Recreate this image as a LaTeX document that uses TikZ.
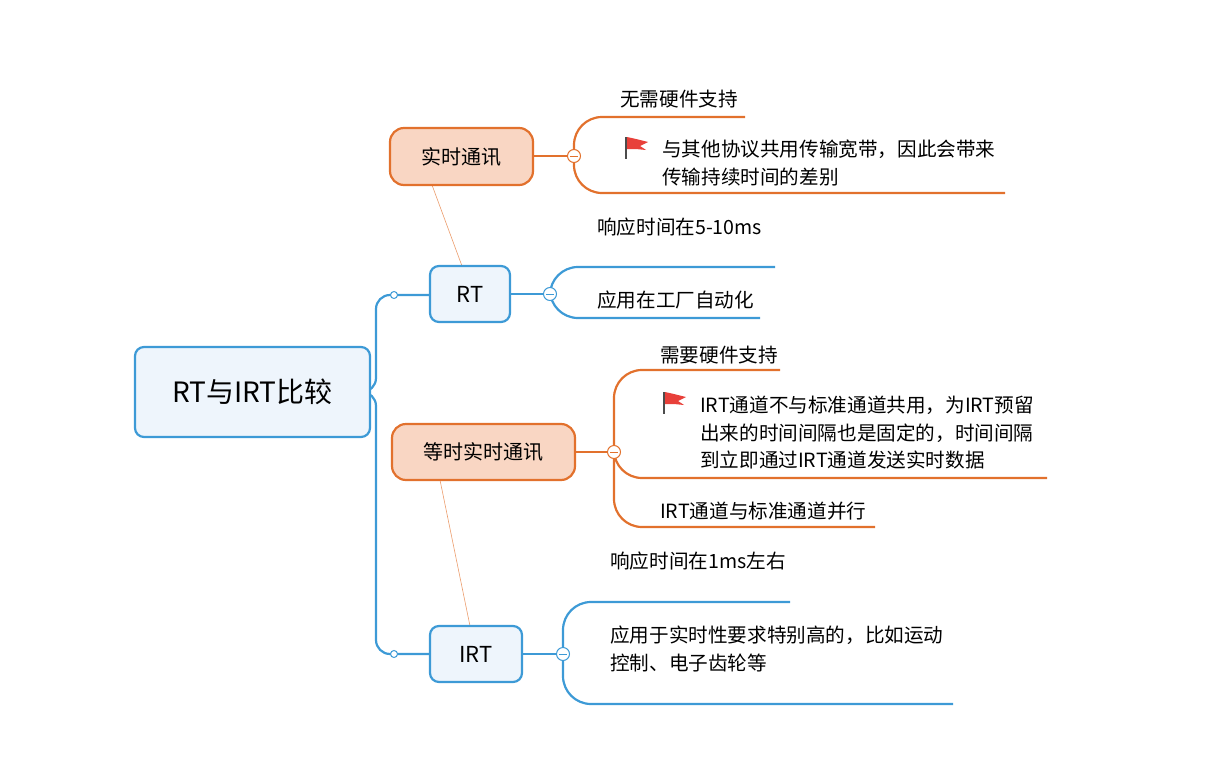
\documentclass[tikz,border=0pt]{standalone}
\usepackage{fontspec}
\setmainfont{Noto Sans CJK SC}
\definecolor{bl}{HTML}{3D9AD6}
\definecolor{bfill}{HTML}{EEF5FC}
\definecolor{orr}{HTML}{E2712D}
\definecolor{ofill}{HTML}{F9D6C3}
\definecolor{flagred}{HTML}{E8403A}
\begin{document}
\begin{tikzpicture}[x=1pt,y=-1pt,
 bnode/.style={draw=bl,line width=2.2pt,fill=bfill,rounded corners=9pt,font=\fontsize{22}{26}\selectfont,inner sep=0pt},
 onode/.style={draw=orr,line width=2.2pt,fill=ofill,rounded corners=14pt,font=\fontsize{20}{24}\selectfont,inner sep=0pt},
 txt/.style={font=\fontsize{19.6}{27.5}\selectfont,anchor=west,align=left,inner sep=0pt},
 col/.style={circle,draw,fill=white,minimum size=13pt,inner sep=0pt,line width=1pt},
 bline/.style={draw=bl,line width=2.2pt,rounded corners=28pt},
 oline/.style={draw=orr,line width=2.2pt,rounded corners=28pt}]
\useasboundingbox (0,0) rectangle (1218,784);
% thin links
\draw[orr!70,line width=0.6pt] (432,185) -- (462,266);
\draw[orr!70,line width=0.6pt] (440,480) -- (470,626);
% root connectors
\draw[bline,rounded corners=14pt] (370,392) -| (376,295) -- (430,295);
\draw[bline,rounded corners=14pt] (370,392) -| (376,654) -- (430,654);
\node[draw=bl,circle,fill=white,minimum size=7pt,inner sep=0pt,line width=1pt] (d1) at (394,295) {};
\node[draw=bl,circle,fill=white,minimum size=7pt,inner sep=0pt,line width=1pt] (d2) at (394,654) {};
% nodes
\node[bnode,minimum width=235pt,minimum height=90pt,font=\fontsize{28}{32}\selectfont] (root) at (252.5,392) {RT与IRT比较};
\node[bnode,minimum width=80pt,minimum height=56pt] (rt) at (470,294) {RT};
\node[bnode,minimum width=92pt,minimum height=56pt] (irt) at (476,654) {IRT};
\node[onode,minimum width=143pt,minimum height=57pt] (ss) at (461.5,156.5) {实时通讯};
\node[onode,minimum width=183pt,minimum height=56pt] (ds) at (483.5,452) {等时实时通讯};
% RT branches
\draw[bline] (510,294) -- (550,294);
\draw[bline] (550,294) |- (775,267);
\draw[bline] (550,294) |- (760,318);
\node[col,draw=bl] (c1) at (550,294) {}; \draw[bl,line width=0.8pt] (546,294)--(554,294);
\node[txt] (t1) at (597,227) {响应时间在5-10ms};
\node[txt] (t2) at (597,300) {应用在工厂自动化};
% 实时通讯 branches
\draw[oline] (533,156) -- (574,156);
\draw[oline] (574,156) |- (745,117);
\draw[oline] (574,156) |- (1005,193);
\node[col,draw=orr] (c2) at (574,156) {}; \draw[orr,line width=0.8pt] (570,156)--(578,156);
\node[txt] (t3) at (620,99) {无需硬件支持};
\node[txt] (t4) at (662,163) {与其他协议共用传输宽带，因此会带来\\传输持续时间的差别};
% 等时实时通讯 branches
\draw[oline] (575,452) -- (614,452);
\draw[oline] (614,452) |- (780,370);
\draw[oline] (614,452) |- (1047,478);
\draw[oline] (614,452) |- (875,527);
\node[col,draw=orr] (c3) at (614,452) {}; \draw[orr,line width=0.8pt] (610,452)--(618,452);
\node[txt] (t5) at (660,355) {需要硬件支持};
\node[txt] (t6) at (700,433) {IRT通道不与标准通道共用，为IRT预留\\出来的时间间隔也是固定的，时间间隔\\到立即通过IRT通道发送实时数据};
\node[txt] (t7) at (660,511) {IRT通道与标准通道并行};
\node[txt] (t8) at (610,561) {响应时间在1ms左右};
% IRT branches
\draw[bline] (522,654) -- (563,654);
\draw[bline] (563,654) |- (790,602);
\draw[bline] (563,654) |- (953,704);
\node[col,draw=bl] (c4) at (563,654) {}; \draw[bl,line width=0.8pt] (559,654)--(567,654);
\node[txt] (t9) at (610,649) {应用于实时性要求特别高的，比如运动\\控制、电子齿轮等};
% flags
\foreach \fx/\fy in {626/137, 664/392}{
 \draw[black!70,line width=1.3pt] (\fx,\fy) -- (\fx,\fy+22);
 \fill[flagred] (\fx+1,\fy) -- (\fx+10,\fy+2) -- (\fx+22,\fy+5) -- (\fx+14,\fy+9) -- (\fx+20,\fy+13) -- (\fx+10,\fy+12) -- (\fx+1,\fy+12) -- cycle;
}
\end{tikzpicture}
\end{document}
